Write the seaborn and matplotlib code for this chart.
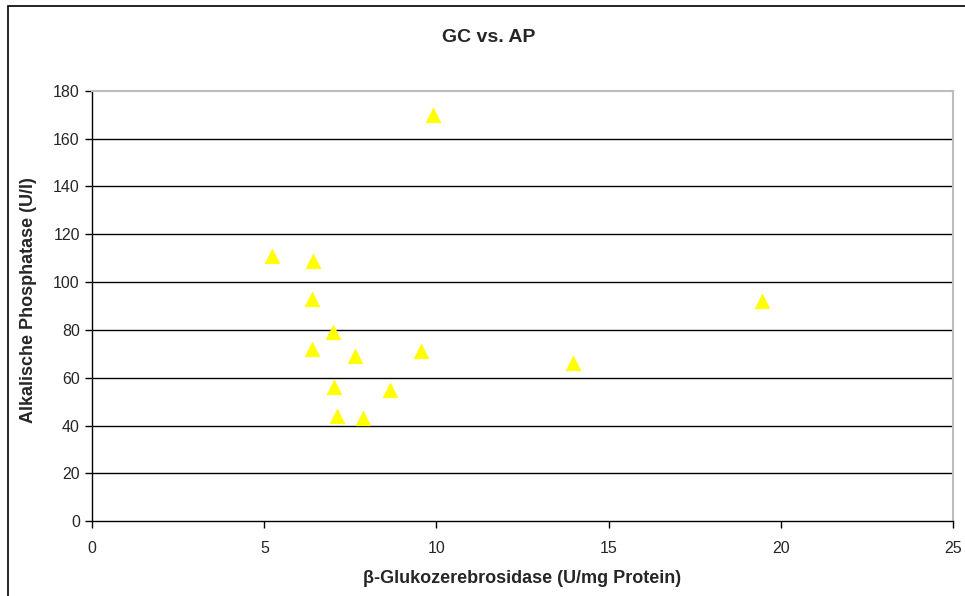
import matplotlib
matplotlib.use("Agg")
import matplotlib.pyplot as plt
import seaborn as sns
import pandas as pd
from matplotlib.patches import Rectangle

gc_values = [9.91, 5.23, 6.42, 6.37, 6.98, 6.37, 7.62, 9.56, 7.03, 8.66, 7.12, 7.88, 13.98, 19.45]
ap_values = [170, 111, 109, 93, 79, 72, 69, 71, 56, 55, 44, 43, 66, 92]
x_ticks = [0, 5, 10, 15, 20, 25]
y_ticks = [0, 20, 40, 60, 80, 100, 120, 140, 160, 180]

title = "GC vs. AP"
x_label = "β-Glukozerebrosidase (U/mg Protein)"
y_label = "Alkalische Phosphatase (U/l)"

df = pd.DataFrame({"gc": gc_values, "ap": ap_values})

sns.set_style("white")
plt.rcParams["font.family"] = ["Liberation Sans", "DejaVu Sans"]

fig = plt.figure(figsize=(9.65, 5.96), dpi=100)
ax = fig.add_axes([92.3 / 965, 1 - 521.3 / 596, (952.7 - 92.3) / 965, (521.3 - 90.7) / 596])

# outer chart border
fig.patches.append(Rectangle((8 / 965, -0.01), 1.5, 1 - 6 / 596 + 0.01, transform=fig.transFigure,
                             fill=False, edgecolor="black", linewidth=1.2, zorder=0))

for yv in y_ticks[1:-1]:
    ax.axhline(yv, color="black", linewidth=1.0, zorder=1)

sns.scatterplot(data=df, x="gc", y="ap", marker="^", s=110, color="#FFFF00",
                edgecolor="#FFFF00", linewidth=0.5, ax=ax, zorder=3, legend=False)

ax.set_xlim(0, 25)
ax.set_ylim(0, 180)
ax.set_xticks(x_ticks)
ax.set_yticks(y_ticks)
ax.set_xticklabels([str(v) for v in x_ticks], fontsize=11.5)
ax.set_yticklabels([str(v) for v in y_ticks], fontsize=11.5)
ax.tick_params(axis="both", direction="out", length=5, width=1, color="black", bottom=True, left=True, pad=4)
ax.tick_params(axis="x", pad=9)

for side in ["left", "bottom"]:
    ax.spines[side].set_color("black")
    ax.spines[side].set_linewidth(1.0)
for side in ["top", "right"]:
    ax.spines[side].set_color("#BDBDBD")
    ax.spines[side].set_linewidth(1.5)

ax.set_xlabel(x_label, fontsize=13, fontweight="bold", labelpad=10)
ax.set_ylabel(y_label, fontsize=13, fontweight="bold", labelpad=10)
ax.yaxis.set_label_coords(-(92.3 - 37) / 860.4, (521.3 - 300) / 430.6)
fig.text(489 / 965, 1 - 37 / 596, title, fontsize=14, fontweight="bold",
         ha="center", va="center")

fig.savefig("out.png", dpi=100)
